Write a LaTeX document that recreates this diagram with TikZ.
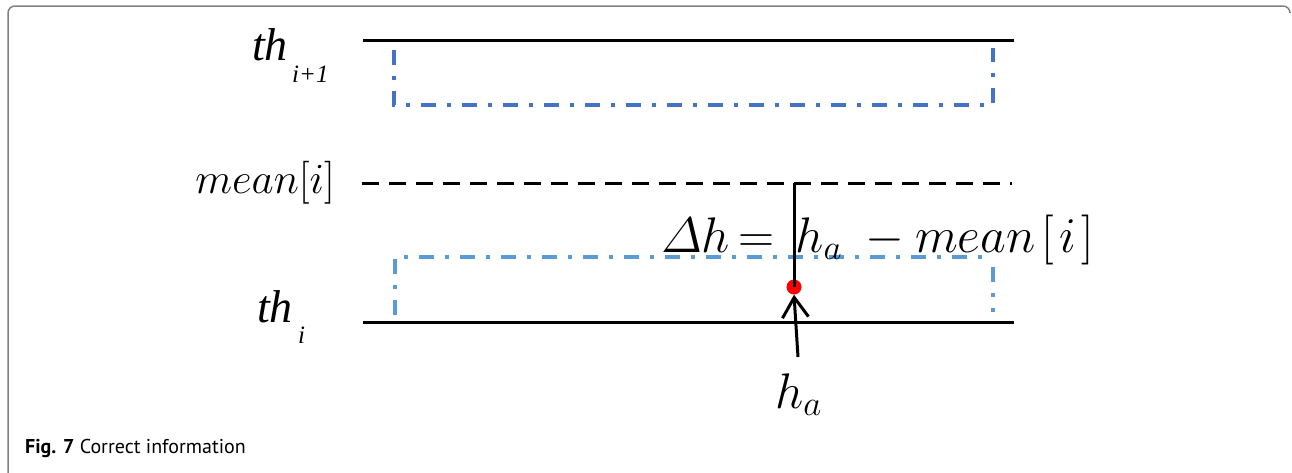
\RequirePackage{fix-cm}
\documentclass[tikz,border=0pt]{standalone}
\usepackage{amsmath}
\usepackage{fontspec}
\newfontfamily\tnr{Liberation Serif}
\newfontfamily\capfont{PT Sans}
\usetikzlibrary{arrows.meta}
\definecolor{blueA}{HTML}{4472C4}
\definecolor{blueB}{HTML}{5B9BD5}
\definecolor{frameg}{HTML}{808080}
\definecolor{dotred}{HTML}{FF0000}
\begin{document}
\begin{tikzpicture}[x=1pt,y=-1pt,
  level/.style={line width=3pt},
  meanline/.style={line width=3pt, dash pattern=on 17pt off 10pt},
  dashdotA/.style={blueA, line width=3.5pt, dash pattern=on 15pt off 11pt on 4pt off 11pt},
  dashdotB/.style={blueB, line width=3.5pt, dash pattern=on 15pt off 11pt on 4pt off 11pt},
  lbl/.style={anchor=base west, inner sep=0pt},
  reddot/.style={circle, fill=dotred, draw=none, minimum size=15pt, inner sep=0pt}]
\useasboundingbox (0,0) rectangle (1292,472);
% frame
\draw[frameg, line width=1.5pt, rounded corners=7pt] (8,473) -- (8,6) -- (1290,6) -- (1290,12);
% coordinates
\coordinate (t1L) at (363,40);
\coordinate (t1R) at (1014,40);
\coordinate (mL) at (362,183);
\coordinate (mR) at (1012,183);
\coordinate (t0L) at (363,322);
\coordinate (t0R) at (1014,322);
% blue boxes
\draw[dashdotA] (394,50) -- (394,105) -- (993,105) -- (993,48);
\draw[dashdotB] (395,315) -- (395,257) -- (990,257);
\draw[dashdotB] (993,267) -- (993,312);
% level lines
\draw[level] (t1L) -- (t1R);
\draw[meanline] (mL) -- (mR);
\draw[level] (t0L) -- (t0R);
% labels
\node[lbl] (thA) at (252,60) {\tnr\fontsize{46}{50}\selectfont\itshape th};
\node[lbl] (subA) at (292,82) {\tnr\fontsize{25}{30}\selectfont\itshape i+1};
\node[lbl] (thB) at (257,322) {\tnr\fontsize{46}{50}\selectfont\itshape th};
\node[lbl] (subB) at (298,343) {\tnr\fontsize{25}{30}\selectfont\itshape i};
\node[anchor=base east, inner sep=0pt] (meanlbl) at (335,193) {\fontsize{43}{50}\selectfont $mean[i]$};
\node[lbl] (formula) at (661,252) {\fontsize{50}{60}\selectfont $\varDelta h\mkern-2mu=\mkern2.5mu h_a\mkern4.3mu-mean\mkern2mu[\mkern2mu i\mkern2mu]$};
% delta line and point
\coordinate (vtop) at (794,183);
\node[reddot] (dot) at (794,287) {};
\draw[line width=3pt] (vtop) -- (dot.center);
\coordinate (astart) at (798,357);
\draw[line width=3pt, -{Straight Barb[length=20pt,width=26pt]}] (astart) -- (dot.south);
\node[lbl] (ha) at (775,408) {\fontsize{50}{60}\selectfont $h_a$};
% caption
\node[lbl] (cap) at (25,453) {\capfont\fontsize{20}{24}\selectfont\textbf{Fig. 7} Correct information};
\end{tikzpicture}
\end{document}
